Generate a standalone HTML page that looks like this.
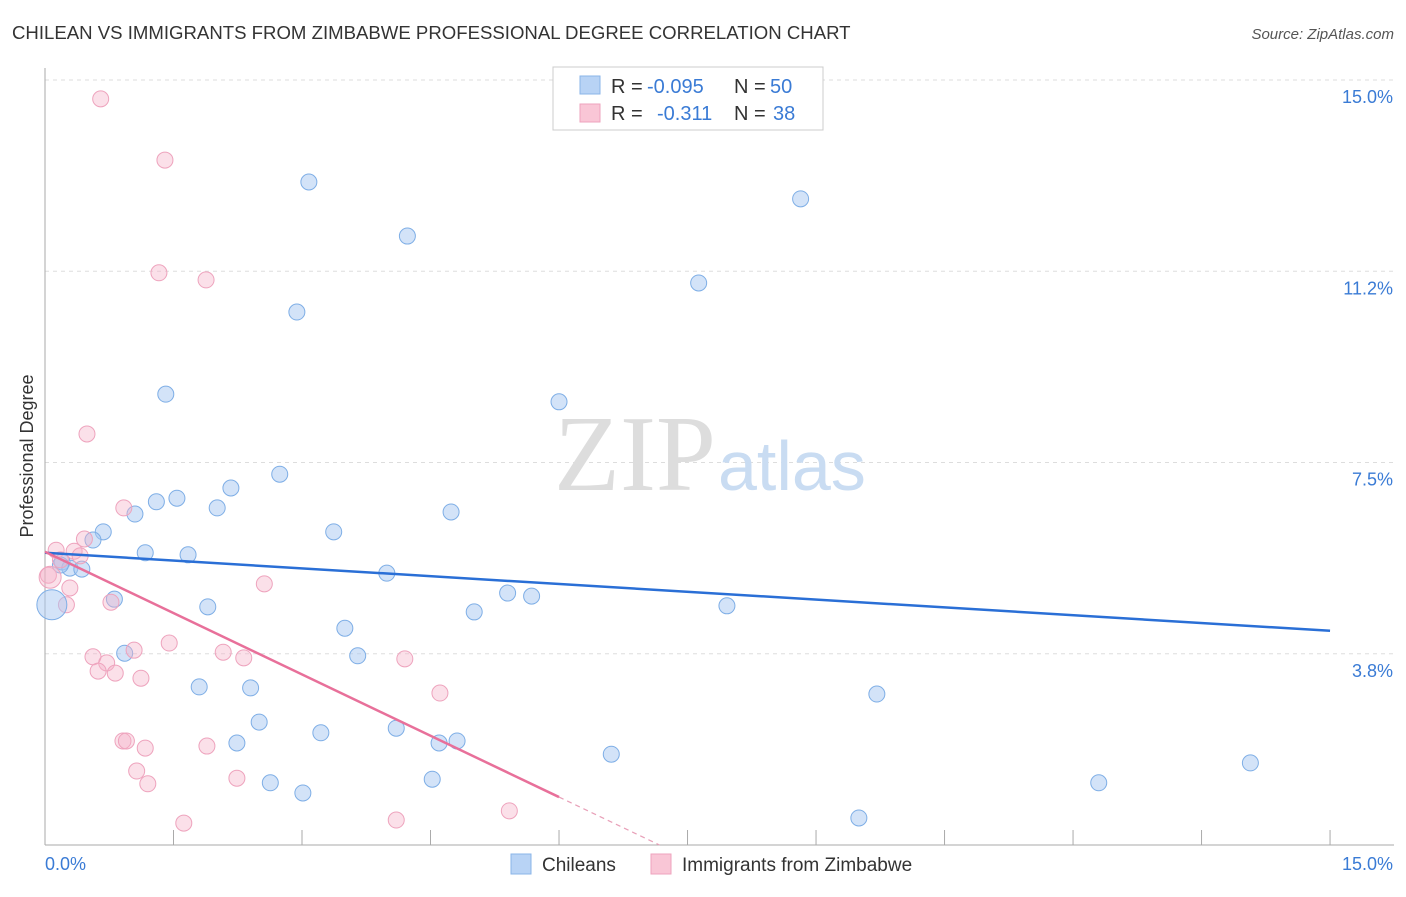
<!DOCTYPE html>
<html><head><meta charset="utf-8"><style>
body{margin:0;background:#fff;font-family:"Liberation Sans",sans-serif;}
svg text{font-family:"Liberation Sans",sans-serif;}
</style></head><body>
<svg id="chart" width="1406" height="892" viewBox="0 0 1406 892" xmlns="http://www.w3.org/2000/svg">
<text x="12" y="39" font-size="18.6" fill="#333">CHILEAN VS IMMIGRANTS FROM ZIMBABWE PROFESSIONAL DEGREE CORRELATION CHART</text>
<text x="1394" y="39" font-size="15" fill="#555" font-style="italic" text-anchor="end">Source: ZipAtlas.com</text>
<g id="grid"></g>
<g id="axes"></g>
<text x="716" y="490" font-size="108" fill="#ddd" text-anchor="end" style="font-family:'Liberation Serif',serif">ZIP</text>
<text x="718" y="490" font-size="70" fill="#c9dcf2">atlas</text>
<g id="pts"></g>
<g id="trends"></g>
<text transform="translate(33,456) rotate(-90)" font-size="18" fill="#333" text-anchor="middle">Professional Degree</text>
<g>
<rect x="553" y="67" width="270" height="63" fill="#fff" stroke="#ccc"/>
<rect x="580" y="76" width="20" height="18" fill="#b8d3f5" stroke="#8ab4e8"/>
<rect x="580" y="104" width="20" height="18" fill="#f9c6d6" stroke="#eea3bd"/>
<text y="93" font-size="20" fill="#333"><tspan x="611">R =</tspan><tspan x="647" fill="#3a7bd5">-0.095</tspan><tspan x="734">N =</tspan><tspan x="770" fill="#3a7bd5">50</tspan></text>
<text y="120" font-size="20" fill="#333"><tspan x="611">R =</tspan><tspan x="657" fill="#3a7bd5">-0.311</tspan><tspan x="734">N =</tspan><tspan x="773" fill="#3a7bd5">38</tspan></text>
</g>
<g>
<rect x="511" y="854" width="20" height="20" fill="#b8d3f5" stroke="#8ab4e8"/>
<text x="542" y="871" font-size="19" fill="#333">Chileans</text>
<rect x="651" y="854" width="20" height="20" fill="#f9c6d6" stroke="#eea3bd"/>
<text x="682" y="871" font-size="19" fill="#333">Immigrants from Zimbabwe</text>
</g>
</svg>
<script>
const yTicks=[3.75,7.5,11.25,15];
const yTickLabels=["3.8%","7.5%","11.2%","15.0%"];
const xTickVals=[1.5,3,4.5,6,7.5,9,10.5,12,13.5,15];
const blueX=[3.08,4.23,8.82,7.63,2.94,1.41,6.00,2.74,2.17,1.54,1.30,2.01,1.05,4.74,0.68,3.37,0.56,1.17,1.67,0.20,0.29,0.43,3.99,0.81,5.40,5.68,1.90,5.01,7.96,3.50,0.93,3.65,1.80,2.40,9.71,2.50,4.10,3.22,2.24,4.60,4.81,6.61,4.52,2.63,12.30,14.07,3.01,9.50,0.18];
const blueY=[13.0,11.94,12.67,11.02,10.45,8.84,8.69,7.27,7.00,6.80,6.73,6.61,6.49,6.53,6.14,6.14,5.98,5.73,5.69,5.55,5.43,5.41,5.33,4.82,4.94,4.88,4.67,4.57,4.69,4.25,3.76,3.71,3.10,3.08,2.96,2.41,2.29,2.20,2.00,2.00,2.04,1.78,1.29,1.22,1.22,1.61,1.02,0.53,5.49];
const pinkX=[0.65,1.40,1.33,1.88,0.49,0.92,0.46,0.13,0.34,0.41,0.18,0.04,0.29,2.56,0.25,0.77,1.45,0.56,1.04,2.08,2.32,4.20,0.72,0.62,0.82,1.12,4.61,0.91,0.95,1.17,1.89,1.07,2.24,1.20,1.62,4.10,5.42];
const pinkY=[14.63,13.43,11.22,11.08,8.06,6.61,6.00,5.78,5.76,5.67,5.59,5.29,5.04,5.12,4.71,4.76,3.96,3.69,3.82,3.78,3.67,3.65,3.57,3.41,3.37,3.27,2.98,2.04,2.04,1.90,1.94,1.45,1.31,1.20,0.43,0.49,0.67];
const blueTrend=[5.73,4.20];
const pinkTrend=[5.75,0.94];
const NS="http://www.w3.org/2000/svg";
const X=v=>45+v*85.67, Y=v=>845-v*51;
function mk(tag,attrs,parent){const e=document.createElementNS(NS,tag);for(const k in attrs)e.setAttribute(k,attrs[k]);document.getElementById(parent).appendChild(e);return e;}
yTicks.forEach((t,i)=>{
 const l=mk('line',{x1:45,x2:1394,y1:Y(t),y2:Y(t),stroke:'#ddd','stroke-dasharray':'4,4'},'grid');
 
 
 const tx=mk('text',{x:1393,y:Y(t)+23,'font-size':18,fill:'#3a7bd5','text-anchor':'end'},'grid');tx.textContent=yTickLabels[i];
 
 
});
mk('line',{x1:45,x2:45,y1:68,y2:845,stroke:'#aaa'},'axes');
mk('line',{x1:45,x2:1394,y1:845,y2:845,stroke:'#aaa'},'axes');
xTickVals.forEach(t=>{const l=mk('line',{x1:X(t),x2:X(t),y1:830,y2:845,stroke:'#aaa'},'axes');
 
 });
let a=mk('text',{x:45,y:870,'font-size':18,fill:'#3a7bd5'},'axes');a.textContent="0.0%";


a=mk('text',{x:1393,y:870,'font-size':18,fill:'#3a7bd5','text-anchor':'end'},'axes');a.textContent="15.0%";


blueX.forEach((x,i)=>{const c=mk('circle',{cx:X(x),cy:Y(blueY[i]),r:8,fill:'rgba(168,200,242,0.5)',stroke:'#7eaee6','stroke-width':1},'pts');
 
 });
pinkX.forEach((x,i)=>{const c=mk('circle',{cx:X(x),cy:Y(pinkY[i]),r:8,fill:'rgba(246,178,200,0.4)',stroke:'#eea3bd','stroke-width':1},'pts');
 
 });
let big=mk('circle',{cx:X(0.08),cy:Y(4.71),r:15,fill:'rgba(168,200,242,0.5)',stroke:'#7eaee6'},'pts');


big=mk('circle',{cx:X(0.06),cy:Y(5.25),r:11,fill:'rgba(246,178,200,0.4)',stroke:'#eea3bd'},'pts');


let t=mk('line',{x1:X(0),y1:Y(blueTrend[0]),x2:X(15),y2:Y(blueTrend[1]),stroke:'#2a6fd6','stroke-width':2.5},'trends');


const slope=(pinkTrend[1]-pinkTrend[0])/6;
t=mk('line',{x1:X(0),y1:Y(pinkTrend[0]),x2:X(6),y2:Y(pinkTrend[1]),stroke:'#e8709a','stroke-width':2.5},'trends');


const xe=-pinkTrend[0]/slope;
t=mk('line',{x1:X(6),y1:Y(pinkTrend[1]),x2:X(xe),y2:Y(0),stroke:'#e8a0b8','stroke-width':1.2,'stroke-dasharray':'5,4'},'trends');


</script>
</body></html>
